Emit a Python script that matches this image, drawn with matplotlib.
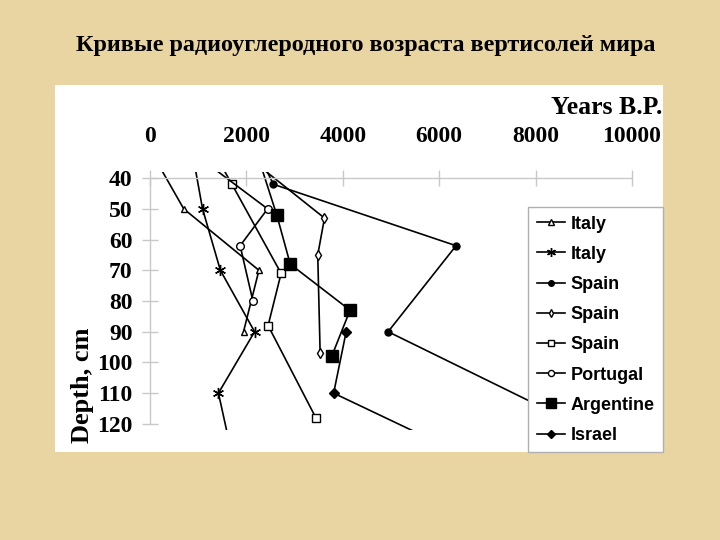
import matplotlib
matplotlib.use("Agg")
import matplotlib.pyplot as plt
from matplotlib.patches import Rectangle

# depth (cm) vs radiocarbon age (years B.P.); first/last points sit outside the axes
italy_a_depth = [35, 50, 70, 90]
italy_a_age = [155, 700, 2260, 1940]
italy_b_depth = [30, 50, 70, 90, 110, 130]
italy_b_age = [860, 1090, 1460, 2170, 1420, 1700]
spain_a_depth = [35, 42, 62, 90, 120]
spain_a_age = [2340, 2560, 6350, 4940, 8840]
spain_b_depth = [35, 53, 65, 97]
spain_b_age = [2180, 3620, 3480, 3530]
spain_c_depth = [30, 42, 71, 88, 118]
spain_c_age = [1270, 1700, 2720, 2450, 3440]
portugal_depth = [35, 50, 62, 80]
portugal_age = [1165, 2440, 1870, 2135]
argentine_depth = [30, 52, 68, 83, 98]
argentine_age = [2180, 2630, 2910, 4150, 3770]
israel_depth = [90, 110, 130]
israel_age = [4070, 3810, 6490]

x_ticks = [0, 2000, 4000, 6000, 8000, 10000]
y_ticks = [40, 50, 60, 70, 80, 90, 100, 110, 120]

title = "Кривые радиоуглеродного возраста вертисолей мира"
serif = "Liberation Serif"
sans = "Liberation Sans"

fig = plt.figure(figsize=(7.2, 5.4), dpi=100)
fig.patch.set_facecolor("#E9D5A2")

# white chart area
fig.patches.append(Rectangle((55 / 720, 88 / 540), 608 / 720, 367 / 540,
                             transform=fig.transFigure, facecolor="white",
                             edgecolor="none", zorder=-1))

fig.text(366 / 720, 1 - 45 / 540, title, ha="center", va="center",
         fontsize=17.4, fontweight="bold", family=serif)

ax = fig.add_axes([150 / 720, 1 - 430 / 540, 482 / 720, (430 - 172) / 540])
ax.set_facecolor("none")

lw = 1.2
series = [
    (italy_a_age, italy_a_depth, "Italy", dict(marker="^", ms=5, mfc="white")),
    (italy_b_age, italy_b_depth, "Italy", dict(marker=(6, 2, 0), ms=8, mew=1.0)),
    (spain_a_age, spain_a_depth, "Spain", dict(marker="o", ms=5, mfc="black")),
    (spain_b_age, spain_b_depth, "Spain", dict(marker="d", ms=5, mfc="white")),
    (spain_c_age, spain_c_depth, "Spain", dict(marker="s", ms=5.5, mfc="white")),
    (portugal_age, portugal_depth, "Portugal", dict(marker="o", ms=5.5, mfc="white")),
    (argentine_age, argentine_depth, "Argentine", dict(marker="s", ms=9, mfc="black")),
    (israel_age, israel_depth, "Israel", dict(marker="D", ms=5, mfc="black")),
]
for xs, ys, name, style in series:
    ax.plot(xs, ys, color="black", lw=lw, mec="black", label=name, **style)

ax.set_xlim(0, 10000)
ax.set_ylim(122, 38)
ax.set_xticks(x_ticks)
ax.set_yticks(y_ticks)
ax.xaxis.tick_top()

for s in ["right", "bottom"]:
    ax.spines[s].set_visible(False)
ax.spines["top"].set_position(("data", 40))
ax.spines["left"].set_bounds(40, 120)
for s in ["top", "left"]:
    ax.spines[s].set_color("#C8C8C8")
    ax.spines[s].set_linewidth(1.0)

ax.tick_params(axis="x", direction="inout", length=11, width=1.0,
               color="#C8C8C8", pad=17)
ax.tick_params(axis="y", direction="inout", length=11, width=1.0,
               color="#C8C8C8", pad=7)
for lab in ax.get_xticklabels() + ax.get_yticklabels():
    lab.set_fontfamily(serif)
    lab.set_fontweight("bold")
    lab.set_fontsize(17)

fig.text(662 / 720, 1 - 108 / 540, "Years B.P.", ha="right", va="center",
         fontsize=18.5, fontweight="bold", family=serif)
fig.text(82 / 720, 1 - 385 / 540, "Depth, cm", ha="center", va="center",
         rotation=90, fontsize=19, fontweight="bold", family=serif)

leg = ax.legend(loc="lower right", bbox_to_anchor=(663 / 720, 88 / 540),
                bbox_transform=fig.transFigure, borderaxespad=0,
                frameon=True, fancybox=False, framealpha=1, edgecolor="#B0B0B0",
                prop=dict(family=sans, weight="bold", size=13),
                labelspacing=0.73, handlelength=1.6, handletextpad=0.3,
                markerscale=0.8, borderpad=0.45)
leg.get_frame().set_linewidth(1.0)

fig.savefig("out.png", dpi=100, facecolor=fig.get_facecolor())
